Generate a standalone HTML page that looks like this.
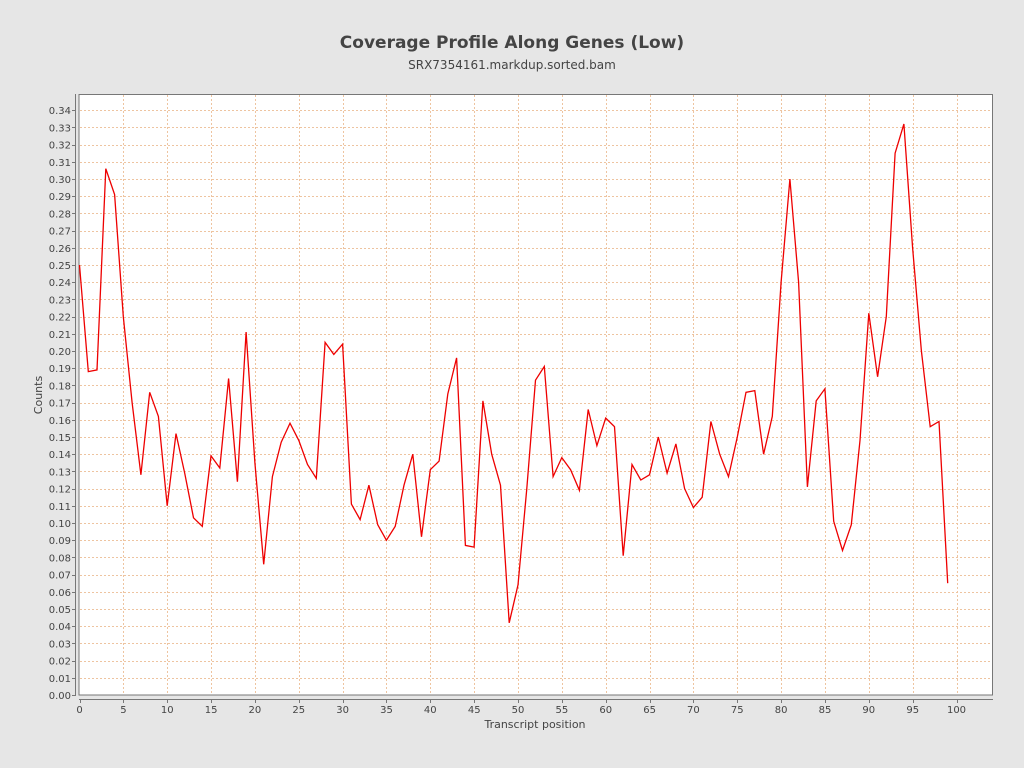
<!DOCTYPE html>
<html><head><meta charset="utf-8"><style>
html,body{margin:0;padding:0;background:#e6e6e6;}
svg{display:block;font-family:"DejaVu Sans","Liberation Sans",sans-serif;}
</style></head><body>
<svg id="s" width="1024" height="768" xmlns="http://www.w3.org/2000/svg">
<rect width="1024" height="768" fill="#e6e6e6"/>
<text x="512" y="48" text-anchor="middle" font-size="17" font-weight="bold" fill="#444">Coverage Profile Along Genes (Low)</text>
<text x="512" y="69" text-anchor="middle" font-size="12" fill="#444">SRX7354161.markdup.sorted.bam</text>
<rect x="79" y="94.5" width="913.5" height="600.5" fill="#fff" stroke="#777" stroke-width="1"/>
<g id="grid" stroke="#eec4a0" stroke-width="1" stroke-dasharray="2,2"></g>
<line x1="75.5" y1="94" x2="75.5" y2="696" stroke="#777"/>
<line x1="79" y1="699.5" x2="993" y2="699.5" stroke="#777"/>
<g id="ticks" stroke="#777"></g>
<polyline id="p" fill="none" stroke="#ee0000" stroke-width="1.3"/>
<g font-size="10" fill="#444" text-anchor="end">
<text x="71" y="699">0.00</text><text x="71" y="681.8">0.01</text><text x="71" y="664.6">0.02</text><text x="71" y="647.4">0.03</text><text x="71" y="630.2">0.04</text><text x="71" y="613">0.05</text><text x="71" y="595.8">0.06</text><text x="71" y="578.6">0.07</text><text x="71" y="561.4">0.08</text><text x="71" y="544.2">0.09</text><text x="71" y="527">0.10</text><text x="71" y="509.8">0.11</text><text x="71" y="492.6">0.12</text><text x="71" y="475.4">0.13</text><text x="71" y="458.2">0.14</text><text x="71" y="441">0.15</text><text x="71" y="423.8">0.16</text><text x="71" y="406.6">0.17</text><text x="71" y="389.4">0.18</text><text x="71" y="372.2">0.19</text><text x="71" y="355">0.20</text><text x="71" y="337.8">0.21</text><text x="71" y="320.6">0.22</text><text x="71" y="303.4">0.23</text><text x="71" y="286.2">0.24</text><text x="71" y="269">0.25</text><text x="71" y="251.8">0.26</text><text x="71" y="234.6">0.27</text><text x="71" y="217.4">0.28</text><text x="71" y="200.2">0.29</text><text x="71" y="183">0.30</text><text x="71" y="165.8">0.31</text><text x="71" y="148.6">0.32</text><text x="71" y="131.4">0.33</text><text x="71" y="114.2">0.34</text>
</g>
<g font-size="10" fill="#444" text-anchor="middle">
<text x="79.5" y="713">0</text><text x="123.4" y="713">5</text><text x="167.2" y="713">10</text><text x="211.1" y="713">15</text><text x="254.9" y="713">20</text><text x="298.8" y="713">25</text><text x="342.6" y="713">30</text><text x="386.5" y="713">35</text><text x="430.3" y="713">40</text><text x="474.2" y="713">45</text><text x="518" y="713">50</text><text x="561.9" y="713">55</text><text x="605.7" y="713">60</text><text x="649.6" y="713">65</text><text x="693.4" y="713">70</text><text x="737.3" y="713">75</text><text x="781.1" y="713">80</text><text x="825" y="713">85</text><text x="868.8" y="713">90</text><text x="912.7" y="713">95</text><text x="956.5" y="713">100</text>
</g>
<text x="535" y="728" text-anchor="middle" font-size="11" fill="#444">Transcript position</text>
<text transform="translate(42,395) rotate(-90)" text-anchor="middle" font-size="11" fill="#444">Counts</text>
</svg>
<script>
var NS="http://www.w3.org/2000/svg";
function X(v){return 79.5+8.77*v;}function Y(v){return 695-v*1720;}
var g=document.getElementById('grid'),t=document.getElementById('ticks');
function L(p,a,b,c,d){var l=document.createElementNS(NS,'line');l.setAttribute('x1',a);l.setAttribute('y1',b);l.setAttribute('x2',c);l.setAttribute('y2',d);p.appendChild(l);}
for(var k=1;k<=34;k++){var y=Math.round(Y(k/100))+0.5;L(g,80,y,992,y);}
for(var k=0;k<=34;k++){var y=Math.round(Y(k/100))+0.5;L(t,72,y,75,y);}
for(var k=0;k<=20;k++){var x=Math.round(X(k*5))+0.5;if(k>0)L(g,x,95,x,694);L(t,x,700,x,703);}
var d=[0.25,0.188,0.189,0.306,0.291,0.22,0.17,0.128,0.176,0.162,0.110,0.152,0.129,0.103,0.098,0.139,0.132,0.184,0.124,0.211,0.135,0.076,0.127,0.147,0.158,0.148,0.134,0.126,0.205,0.198,0.204,0.111,0.102,0.122,0.099,0.090,0.098,0.122,0.140,0.092,0.131,0.136,0.175,0.196,0.087,0.086,0.171,0.140,0.122,0.042,0.064,0.120,0.183,0.191,0.127,0.138,0.131,0.119,0.166,0.145,0.161,0.156,0.081,0.134,0.125,0.128,0.150,0.129,0.146,0.120,0.109,0.115,0.159,0.140,0.127,0.150,0.176,0.177,0.140,0.162,0.240,0.300,0.240,0.121,0.171,0.178,0.101,0.084,0.099,0.148,0.222,0.185,0.220,0.315,0.332,0.260,0.200,0.156,0.159,0.065];
document.getElementById('p').setAttribute('points',d.map(function(v,i){return X(i).toFixed(1)+','+Y(v).toFixed(1);}).join(' '));
</script>
</body></html>
